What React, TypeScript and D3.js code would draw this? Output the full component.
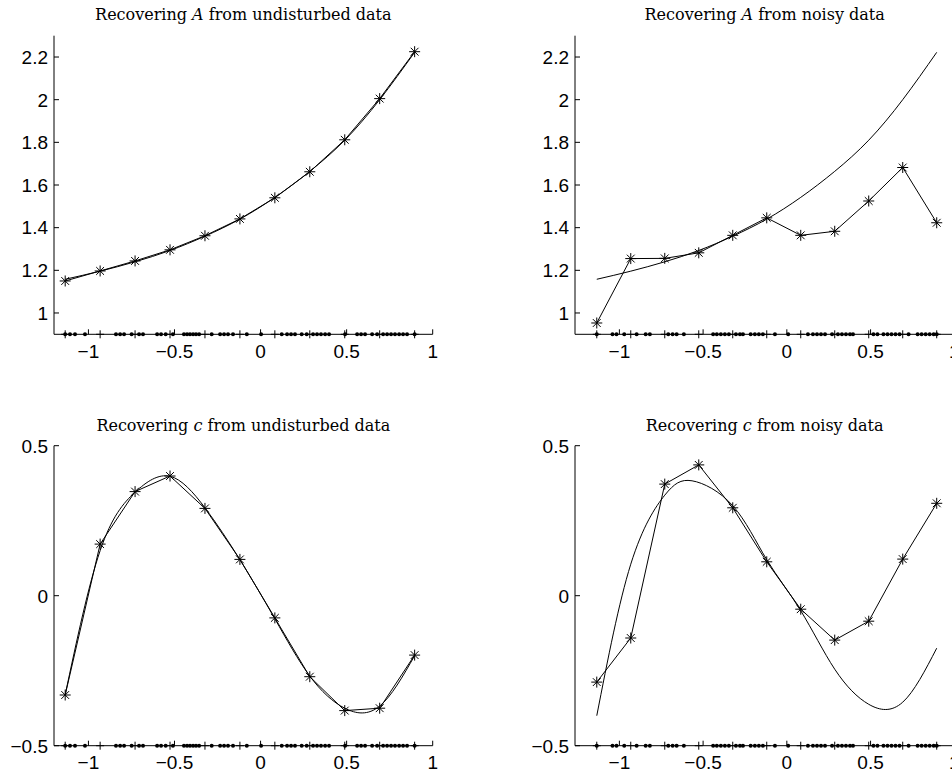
import React from 'react';
import * as d3 from 'd3';

// node positions (where the star markers sit)
const nodesX = [-1.135, -0.932, -0.729, -0.526, -0.323, -0.12, 0.083, 0.286, 0.489, 0.692, 0.895];

// A: true curve and recovered values
const trueA = [1.158, 1.196, 1.24, 1.293, 1.36, 1.44, 1.542, 1.664, 1.81, 2.0, 2.222];
const recA_clean = [1.15, 1.197, 1.244, 1.296, 1.362, 1.441, 1.54, 1.662, 1.812, 2.005, 2.225];
const recA_noisy = [0.953, 1.255, 1.256, 1.282, 1.364, 1.446, 1.364, 1.383, 1.525, 1.682, 1.423];

// c: true curve read at points, recovered values
const trueC_leftX = [-1.135, -0.932, -0.729, -0.526, -0.323, -0.12, 0.083, 0.286, 0.489, 0.692, 0.895];
const trueC_leftY = [-0.33, 0.15, 0.345, 0.398, 0.293, 0.12, -0.077, -0.268, -0.375, -0.368, -0.2];
const recC_clean = [-0.331, 0.172, 0.347, 0.399, 0.291, 0.121, -0.074, -0.27, -0.383, -0.375, -0.198];

const trueC_rightX = [-1.135, -0.932, -0.729, -0.566, -0.323, -0.12, 0.083, 0.286, 0.489, 0.692, 0.895];
const trueC_rightY = [-0.4, 0.105, 0.335, 0.383, 0.3, 0.12, -0.05, -0.245, -0.362, -0.355, -0.175];
const recC_noisy = [-0.288, -0.141, 0.372, 0.436, 0.293, 0.113, -0.045, -0.148, -0.085, 0.122, 0.308];

// sample locations drawn as dots along the bottom axis
const samplesLeft = [-1.135, -1.107, -1.078, -1.02, -0.84, -0.816, -0.793, -0.749, -0.706, -0.683, -0.601, -0.578,
  -0.551, -0.509, -0.445, -0.427, -0.41, -0.392, -0.375, -0.357, -0.284, -0.235, -0.212, -0.189, -0.16, -0.08,
  0.003, 0.123, 0.154, 0.177, 0.2, 0.239, 0.268, 0.305, 0.328, 0.351, 0.375, 0.398, 0.491, 0.561, 0.584, 0.607,
  0.648, 0.677, 0.712, 0.735, 0.758, 0.781, 0.805, 0.828, 0.851, 0.895];
const samplesRight = [-1.135, -1.041, -1.017, -0.971, -0.897, -0.843, -0.818, -0.708, -0.682, -0.658, -0.615,
  -0.44, -0.418, -0.394, -0.37, -0.346, -0.304, -0.28, -0.262, -0.216, -0.191, -0.167, -0.143, -0.071, 0.008,
  0.126, 0.156, 0.18, 0.204, 0.228, 0.27, 0.305, 0.329, 0.353, 0.377, 0.395, 0.517, 0.541, 0.577, 0.601, 0.625,
  0.649, 0.673, 0.727, 0.781, 0.805, 0.829, 0.853, 0.877, 0.895];

const xTicks = [-1, -0.5, 0, 0.5, 1];
const xTickLabels = ['\u22121', '\u22120.5', '0', '0.5', '1'];
const yTicksA = [1, 1.2, 1.4, 1.6, 1.8, 2, 2.2];
const yTickLabelsA = ['1', '1.2', '1.4', '1.6', '1.8', '2', '2.2'];
const yTicksC = [-0.5, 0, 0.5];
const yTickLabelsC = ['\u22120.5', '0', '0.5'];

const W = 952;
const H = 774;

const star = 'M-5.5,0H5.5M0,-5.5V5.5M-3.9,-3.9L3.9,3.9M-3.9,3.9L3.9,-3.9';

type Panel = {
  title: React.ReactNode;
  xDomain: [number, number];
  xRange: [number, number];
  yDomain: [number, number];
  yRange: [number, number];
  yTicks: number[];
  yLabels: string[];
  curveX: number[];
  curveY: number[];
  rec: number[];
  samples: number[];
  titleY: number;
};

const italic = (s: string) => <tspan fontStyle="italic">{s}</tspan>;

const panels: Panel[] = [
  {
    title: <>Recovering {italic('A')} from undisturbed data</>,
    xDomain: [-1.2, 1], xRange: [54, 432.7],
    yDomain: [0.9, 2.3], yRange: [334.3, 35.7],
    yTicks: yTicksA, yLabels: yTickLabelsA,
    curveX: nodesX, curveY: trueA, rec: recA_clean, samples: samplesLeft, titleY: 20,
  },
  {
    title: <>Recovering {italic('A')} from noisy data</>,
    xDomain: [-1.265, 1], xRange: [575, 954.3],
    yDomain: [0.9, 2.3], yRange: [334.3, 35.7],
    yTicks: yTicksA, yLabels: yTickLabelsA,
    curveX: nodesX, curveY: trueA, rec: recA_noisy, samples: samplesRight, titleY: 20,
  },
  {
    title: <>Recovering {italic('c')} from undisturbed data</>,
    xDomain: [-1.2, 1], xRange: [54, 432.7],
    yDomain: [-0.5, 0.5], yRange: [745.7, 445.7],
    yTicks: yTicksC, yLabels: yTickLabelsC,
    curveX: trueC_leftX, curveY: trueC_leftY, rec: recC_clean, samples: samplesLeft, titleY: 431,
  },
  {
    title: <>Recovering {italic('c')} from noisy data</>,
    xDomain: [-1.265, 1], xRange: [575, 954.3],
    yDomain: [-0.5, 0.5], yRange: [745.7, 445.7],
    yTicks: yTicksC, yLabels: yTickLabelsC,
    curveX: trueC_rightX, curveY: trueC_rightY, rec: recC_noisy, samples: samplesRight, titleY: 431,
  },
];

function PanelView({ p }: { p: Panel }) {
  const x = d3.scaleLinear().domain(p.xDomain).range(p.xRange);
  const y = d3.scaleLinear().domain(p.yDomain).range(p.yRange);
  const x0 = p.xRange[0];
  const yBase = p.yRange[0];

  const smooth = d3.line<number>()
    .x((_, i) => x(p.curveX[i]))
    .y(d => y(d))
    .curve(d3.curveNatural)(p.curveY);

  const poly = d3.line<number>()
    .x((_, i) => x(nodesX[i]))
    .y(d => y(d))(p.rec);

  return (
    <g>
      <text x={(p.xRange[0] + p.xRange[1]) / 2} y={p.titleY} textAnchor="middle"
        fontFamily="'DejaVu Serif', serif" fontSize={16} fill="#000">{p.title}</text>

      {/* axes */}
      <line x1={x0} x2={x0} y1={p.yRange[1]} y2={yBase} stroke="#000" strokeWidth={1} />
      <line x1={x0} x2={p.xRange[1]} y1={yBase} y2={yBase} stroke="#000" strokeWidth={1} />

      {p.yTicks.map((t, i) => (
        <g key={'y' + t}>
          <line x1={x0} x2={x0 + 5} y1={y(t)} y2={y(t)} stroke="#000" strokeWidth={1} />
          <text x={x0 - 6} y={y(t)} dy="0.36em" textAnchor="end"
            fontFamily="'Liberation Sans', Arial, sans-serif" fontSize={19} fill="#000">{p.yLabels[i]}</text>
        </g>
      ))}
      {xTicks.map((t, i) => (
        <g key={'x' + t}>
          <line x1={x(t)} x2={x(t)} y1={yBase} y2={yBase - 5} stroke="#000" strokeWidth={1} />
          <text x={x(t)} y={yBase + 23.5} textAnchor="middle"
            fontFamily="'Liberation Sans', Arial, sans-serif" fontSize={19} fill="#000">{xTickLabels[i]}</text>
        </g>
      ))}

      {/* sample dots and node plus marks along the base */}
      {p.samples.map((s, i) => (
        <circle key={'s' + i} cx={x(s)} cy={yBase} r={2} fill="#000" />
      ))}
      {nodesX.map((n, i) => (
        <path key={'n' + i} d={`M${x(n)},${yBase - 4}V${yBase + 4}M${x(n) - 4},${yBase}H${x(n) + 4}`}
          stroke="#000" strokeWidth={1} />
      ))}

      <path d={smooth ?? ''} fill="none" stroke="#000" strokeWidth={1} />
      <path d={poly ?? ''} fill="none" stroke="#000" strokeWidth={1} />
      {p.rec.map((v, i) => (
        <path key={'st' + i} transform={`translate(${x(nodesX[i])},${y(v)})`} d={star}
          stroke="#000" strokeWidth={1} fill="none" />
      ))}
    </g>
  );
}

export default function App() {
  return (
    <svg width={W} height={H} style={{ position: 'absolute', left: 0, top: 0, background: '#fff' }}>
      <rect width={W} height={H} fill="#fff" />
      {panels.map((p, i) => <PanelView key={i} p={p} />)}
    </svg>
  );
}
